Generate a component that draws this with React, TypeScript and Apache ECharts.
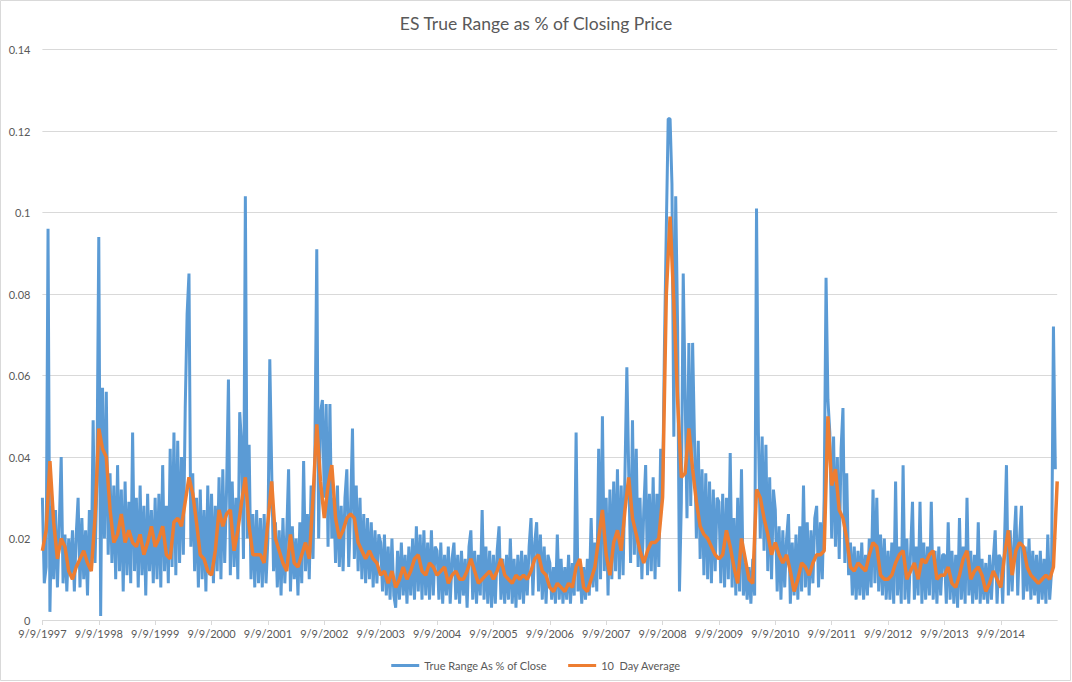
import React, { useEffect, useRef } from 'react';
import * as echarts from 'echarts';

// x axis ticks, one per year (9/9 of each year)
const xTickLabels = [
  '9/9/1997', '9/9/1998', '9/9/1999', '9/9/2000', '9/9/2001', '9/9/2002',
  '9/9/2003', '9/9/2004', '9/9/2005', '9/9/2006', '9/9/2007', '9/9/2008',
  '9/9/2009', '9/9/2010', '9/9/2011', '9/9/2012', '9/9/2013', '9/9/2014',
];

// True range as % of close, 30 readings per year starting 9/9 of each year
const tr1997 = [.030, .009, .013, .096, .002, .028, .010, .027, .008, .024, .040, .009, .021, .007, .020, .011, .022, .007, .021, .030, .008, .025, .010, .022, .006, .027, .012, .049, .014, .034];
const tr1998 = [.094, .001, .057, .020, .056, .016, .036, .014, .033, .010, .038, .012, .032, .007, .034, .011, .029, .009, .046, .012, .030, .008, .033, .011, .028, .006, .031, .012, .027, .009];
const tr1999 = [.030, .010, .031, .008, .038, .012, .028, .009, .042, .013, .046, .011, .044, .014, .040, .016, .052, .075, .085, .018, .036, .012, .030, .008, .032, .010, .027, .007, .033, .011];
const tr2000 = [.031, .009, .028, .012, .035, .010, .037, .014, .032, .059, .011, .034, .013, .030, .010, .051, .043, .015, .104, .020, .043, .010, .026, .008, .027, .009, .025, .008, .026, .009];
const tr2001 = [.020, .064, .037, .012, .024, .008, .022, .006, .025, .009, .021, .037, .007, .023, .010, .020, .006, .024, .009, .039, .012, .026, .010, .033, .015, .042, .091, .020, .051, .054];
const tr2002 = [.030, .053, .018, .053, .020, .030, .014, .033, .013, .028, .012, .030, .037, .013, .027, .047, .015, .033, .012, .030, .010, .026, .009, .025, .010, .024, .008, .022, .009, .021];
const tr2003 = [.019, .007, .021, .006, .018, .005, .020, .006, .003, .017, .005, .019, .006, .016, .004, .018, .006, .020, .005, .023, .007, .021, .005, .022, .006, .019, .005, .022, .006, .018];
const tr2004 = [.017, .005, .019, .004, .016, .006, .018, .004, .015, .019, .005, .016, .004, .017, .006, .015, .003, .018, .022, .005, .017, .004, .016, .006, .027, .005, .018, .004, .017, .003];
const tr2005 = [.016, .004, .017, .023, .005, .015, .004, .016, .005, .020, .004, .015, .003, .016, .005, .017, .004, .016, .006, .018, .025, .006, .019, .024, .007, .021, .005, .018, .004, .016];
const tr2006 = [.014, .005, .013, .004, .021, .005, .015, .004, .013, .005, .016, .004, .014, .006, .046, .007, .014, .004, .013, .005, .015, .006, .025, .008, .019, .007, .042, .010, .050, .012];
const tr2007 = [.030, .006, .032, .010, .034, .012, .037, .010, .033, .011, .036, .062, .036, .014, .049, .016, .042, .013, .030, .010, .027, .038, .011, .031, .012, .035, .010, .031, .013, .042];
const tr2008 = [.030, .067, .096, .123, .123, .107, .045, .104, .072, .007, .029, .085, .056, .025, .068, .028, .068, .044, .020, .044, .015, .037, .011, .036, .010, .034, .009, .032, .012, .030];
const tr2009 = [.029, .009, .031, .008, .030, .010, .041, .008, .025, .006, .030, .007, .037, .006, .014, .005, .013, .004, .015, .006, .101, .046, .020, .045, .017, .043, .012, .035, .010, .032];
const tr2010 = [.027, .007, .023, .005, .022, .008, .020, .026, .004, .019, .006, .021, .005, .023, .007, .033, .008, .024, .006, .022, .009, .025, .028, .008, .024, .010, .030, .084, .054, .046];
const tr2011 = [.020, .045, .018, .040, .015, .042, .052, .014, .036, .011, .019, .006, .018, .005, .017, .006, .019, .005, .016, .006, .020, .008, .032, .009, .030, .007, .021, .006, .020, .005];
const tr2012 = [.017, .005, .019, .004, .034, .006, .018, .004, .038, .005, .020, .004, .017, .029, .005, .018, .006, .029, .004, .019, .005, .018, .006, .029, .005, .017, .004, .018, .006, .016];
const tr2013 = [.016, .004, .024, .005, .017, .004, .016, .003, .025, .005, .018, .004, .030, .006, .017, .004, .016, .005, .024, .004, .015, .005, .014, .004, .016, .005, .015, .022, .004, .016];
const tr2014 = [.015, .004, .020, .038, .006, .022, .007, .019, .028, .006, .020, .028, .005, .018, .007, .020, .005, .017, .006, .016, .004, .017, .005, .015, .004, .021, .005, .012, .072, .037];

// 10 day average, 15 readings per year starting 9/9 of each year
const avg1997 = [.017, .022, .039, .024, .015, .020, .018, .012, .010, .013, .015, .017, .014, .012, .025];
const avg1998 = [.047, .042, .040, .027, .019, .021, .026, .019, .022, .019, .018, .021, .016, .019, .023];
const avg1999 = [.018, .020, .023, .016, .015, .024, .025, .023, .029, .035, .031, .024, .016, .015, .012];
const avg2000 = [.011, .017, .027, .023, .026, .027, .017, .022, .029, .035, .023, .016, .016, .016, .014];
const avg2001 = [.024, .034, .020, .017, .014, .012, .021, .014, .013, .016, .019, .015, .030, .048, .034];
const avg2002 = [.025, .033, .038, .025, .020, .022, .025, .026, .025, .019, .017, .015, .017, .015, .014];
const avg2003 = [.011, .012, .009, .012, .008, .010, .013, .010, .012, .015, .016, .012, .011, .014, .013];
const avg2004 = [.011, .012, .013, .009, .011, .012, .010, .010, .012, .015, .012, .009, .010, .011, .012];
const avg2005 = [.010, .012, .015, .011, .010, .009, .011, .010, .011, .010, .012, .015, .016, .012, .011];
const avg2006 = [.008, .007, .009, .008, .007, .009, .008, .013, .015, .008, .007, .010, .013, .020, .027];
const avg2007 = [.016, .011, .019, .022, .017, .027, .035, .025, .021, .017, .014, .017, .019, .019, .020];
const avg2008 = [.030, .080, .099, .078, .054, .035, .036, .047, .037, .029, .023, .021, .020, .018, .016];
const avg2009 = [.015, .016, .022, .018, .013, .009, .020, .015, .010, .009, .032, .030, .025, .021, .016];
const avg2010 = [.019, .016, .014, .016, .012, .007, .010, .014, .013, .011, .014, .016, .016, .017, .050];
const avg2011 = [.033, .037, .027, .025, .020, .013, .012, .014, .013, .012, .016, .019, .018, .011, .010];
const avg2012 = [.010, .011, .014, .016, .017, .010, .012, .014, .010, .015, .014, .016, .017, .010, .011];
const avg2013 = [.011, .013, .009, .008, .011, .015, .017, .010, .012, .013, .011, .007, .009, .012, .010];
const avg2014 = [.008, .016, .022, .011, .017, .019, .018, .013, .011, .010, .009, .010, .011, .010, .013];
const avgTail = [.034];

const trueRange = [
  ...tr1997, ...tr1998, ...tr1999, ...tr2000, ...tr2001, ...tr2002,
  ...tr2003, ...tr2004, ...tr2005, ...tr2006, ...tr2007, ...tr2008,
  ...tr2009, ...tr2010, ...tr2011, ...tr2012, ...tr2013, ...tr2014,
];
const tenDayAvg = [
  ...avg1997, ...avg1998, ...avg1999, ...avg2000, ...avg2001, ...avg2002,
  ...avg2003, ...avg2004, ...avg2005, ...avg2006, ...avg2007, ...avg2008,
  ...avg2009, ...avg2010, ...avg2011, ...avg2012, ...avg2013, ...avg2014,
  ...avgTail,
];

const FONT = 'Lato';
const TEXT = '#595959';
const GRID = '#d9d9d9';

const App = () => {
  const chartRef = useRef<HTMLDivElement>(null);

  useEffect(() => {
    if (!chartRef.current) return;
    document.body.style.margin = '0';

    const chart = echarts.init(chartRef.current, undefined, { renderer: 'svg' });

    const option = {
      animation: false,
      backgroundColor: '#fff',
      title: {
        text: 'ES True Range as % of Closing Price',
        left: 'center',
        top: 9,
        textStyle: { fontFamily: FONT, fontSize: 17.5, fontWeight: 'normal', color: TEXT },
      },
      legend: {
        top: 655,
        left: 'center',
        icon: 'rect',
        itemWidth: 28,
        itemHeight: 3,
        itemGap: 21,
        textStyle: { fontFamily: FONT, fontSize: 11, color: TEXT },
        data: ['True Range As % of Close', '10  Day Average'],
      },
      grid: { left: 42.4, right: 14.8, top: 49.5, bottom: 62 },
      xAxis: {
        type: 'value',
        min: 0,
        max: 18,
        interval: 1,
        axisLine: { lineStyle: { color: GRID, width: 1 } },
        axisTick: { show: true, length: 5, lineStyle: { color: GRID } },
        splitLine: { show: false },
        axisLabel: {
          margin: 8,
          fontFamily: FONT,
          fontSize: 11,
          color: TEXT,
          showMaxLabel: false,
          formatter: (v: number) => xTickLabels[Math.round(v)] ?? '',
        },
      },
      yAxis: {
        type: 'value',
        min: 0,
        max: 0.14,
        interval: 0.02,
        axisLine: { show: false },
        axisTick: { show: false },
        splitLine: { lineStyle: { color: GRID, width: 1 } },
        axisLabel: {
          margin: 12,
          fontFamily: FONT,
          fontSize: 11,
          color: TEXT,
          formatter: (v: number) => String(+v.toFixed(2)),
        },
      },
      series: [
        {
          name: 'True Range As % of Close',
          type: 'line',
          symbol: 'none',
          color: '#5B9BD5',
          lineStyle: { color: '#5B9BD5', width: 3 },
          emphasis: { disabled: true },
          data: trueRange.map((v, i) => [i / 30, v]),
          z: 2,
        },
        {
          name: '10  Day Average',
          type: 'line',
          symbol: 'none',
          color: '#ED7D31',
          lineStyle: { color: '#ED7D31', width: 3.5 },
          emphasis: { disabled: true },
          data: tenDayAvg.map((v, i) => [i / 15, v]),
          z: 3,
        },
      ],
      graphic: [
        {
          type: 'rect',
          shape: { x: 0.5, y: 0.5, width: 1070, height: 680 },
          style: { fill: 'none', stroke: GRID, lineWidth: 1 },
          silent: true,
        },
      ],
    };

    chart.setOption(option as any);

    return () => {
      chart.dispose();
    };
  }, []);

  return <div ref={chartRef} style={{ width: '1072px', height: '682px' }} />;
};

export default App;
